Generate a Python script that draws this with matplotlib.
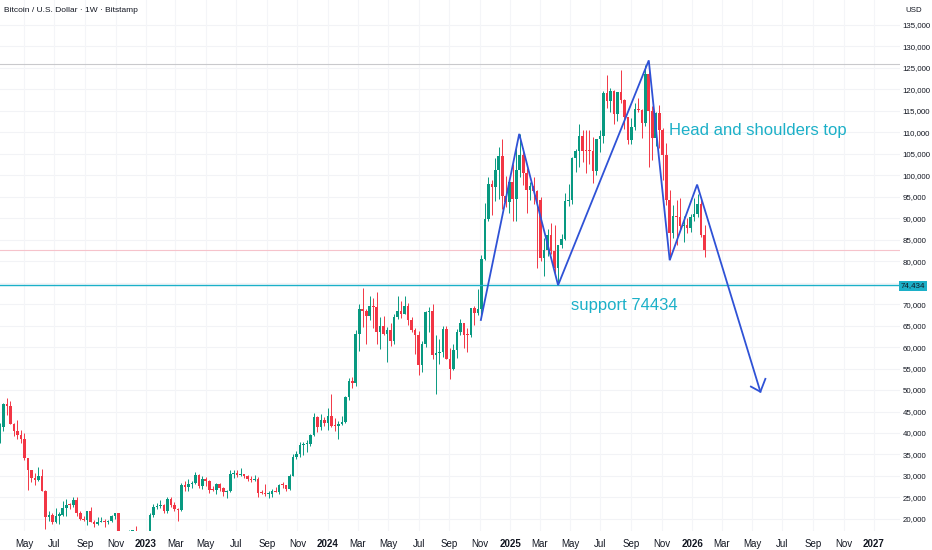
import matplotlib
matplotlib.use("Agg")
import matplotlib.pyplot as plt
import matplotlib.dates as mdates
import numpy as np
import pandas as pd

plt.rcParams['font.family'] = ['Liberation Sans', 'DejaVu Sans']

# weekly BTC/USD candles in thousands USD, first week starts Mon 2022-03-14
opens = [
    # 2022
    37.8, 41.3, 46.8, 46.4, 42.2, 40.4, 39.5, 38.5, 34.3, 31.3, 29.5, 29.0, 29.9, 26.6,
    20.5, 21.0, 19.3, 20.8, 20.9, 22.6, 23.3, 23.2, 24.3, 21.5, 20.0, 19.8, 21.8, 19.4,
    18.8, 19.3, 19.4, 19.2, 19.6, 20.6, 21.3, 16.3, 16.7, 16.5, 17.1, 17.2, 16.8, 16.9,
    # 2023
    16.6, 17.1, 20.9, 22.7, 23.0, 23.3, 21.8, 24.6, 23.2, 22.4, 22.0, 28.0, 27.5, 28.2,
    28.3, 30.3, 27.6, 29.2, 28.9, 26.8, 26.7, 28.1, 27.1, 26.3, 26.4, 30.5, 30.6, 30.2,
    30.3, 30.1, 29.3, 29.0, 29.4, 26.1, 26.0, 25.8, 25.9, 26.5, 26.3, 28.0, 27.9, 26.9,
    30.0, 34.5, 35.0, 37.1, 37.4, 37.5, 39.5, 43.8, 41.4, 43.0,
    # 2024
    42.3, 43.9, 41.7, 41.6, 42.0, 42.6, 48.3, 52.1, 51.7, 63.1, 68.9, 68.4, 67.2, 69.6,
    69.4, 63.4, 64.9, 63.1, 64.0, 61.5, 67.0, 68.5, 67.7, 69.6, 66.2, 64.0, 62.7, 55.9,
    60.8, 68.2, 68.3, 58.2, 58.7, 58.9, 64.2, 57.3, 54.9, 59.2, 63.6, 65.6, 62.9, 62.8,
    69.0, 67.9, 68.8, 80.4, 89.9, 97.9, 97.3, 101.1, 104.5, 95.2, 93.7,
    # 2025
    98.3, 94.5, 101.3, 104.8, 100.6, 96.5, 97.5, 96.3, 94.2, 80.7, 82.6, 86.1, 82.4, 78.4,
    83.7, 85.2, 94.0, 94.3, 104.0, 105.6, 109.0, 105.7, 105.6, 105.5, 101.0, 108.4, 109.2, 119.1,
    117.3, 119.5, 114.2, 119.3, 117.4, 113.5, 108.2, 111.1, 115.3, 115.2, 112.2, 123.5, 115.0, 108.6,
    114.5, 110.5, 104.7, 94.2, 86.6, 90.4, 90.3, 88.2, 88.5, 87.7,
    # 2026
    90.2, 90.9, 93.3, 86.0,
]
highs = [
    42.3, 47.0, 48.2, 47.5, 42.4, 43.0, 40.8, 40.0, 34.3, 31.3, 30.6, 32.2, 31.7, 26.8,
    21.9, 21.5, 22.5, 21.6, 24.2, 24.6, 23.6, 25.2, 25.0, 21.8, 20.6, 21.8, 22.7, 19.7,
    20.4, 20.5, 19.9, 19.7, 21.0, 21.4, 21.5, 17.2, 16.8, 17.4, 17.4, 18.4, 17.0, 16.9,
    17.3, 21.3, 23.4, 23.8, 24.3, 23.4, 25.2, 25.2, 23.9, 22.6, 28.4, 28.9, 29.2, 28.8,
    31.0, 30.5, 30.0, 29.8, 29.0, 27.6, 28.3, 28.4, 27.4, 26.8, 31.4, 31.3, 31.5, 31.8,
    30.4, 30.2, 29.9, 30.2, 29.7, 26.8, 28.1, 26.4, 27.0, 27.5, 28.1, 28.6, 28.0, 30.4,
    35.2, 35.9, 37.9, 37.9, 38.4, 39.8, 44.7, 44.0, 44.4, 43.7,
    45.9, 49.0, 43.6, 42.8, 43.9, 48.6, 52.8, 53.0, 64.0, 70.0, 73.8, 68.9, 71.8, 71.3,
    72.8, 66.9, 67.2, 64.7, 65.5, 67.7, 71.9, 70.6, 71.9, 70.2, 66.9, 64.5, 63.8, 61.4,
    68.4, 69.4, 70.0, 62.7, 61.8, 65.0, 64.9, 59.8, 60.6, 64.1, 66.5, 65.7, 64.5, 69.1,
    69.5, 73.6, 81.5, 93.5, 99.6, 98.8, 104.0, 106.5, 108.4, 99.9, 99.0,
    102.7, 106.4, 109.6, 106.4, 101.6, 98.5, 99.5, 96.5, 95.0, 85.3, 87.5, 88.8, 88.5, 83.8,
    86.4, 95.8, 97.9, 104.3, 106.0, 111.9, 110.4, 110.5, 110.6, 108.9, 108.5, 110.6, 119.5, 123.2,
    120.3, 119.8, 119.4, 124.5, 117.6, 113.6, 113.4, 116.8, 117.9, 115.4, 125.6, 126.2, 116.0, 114.6,
    116.4, 110.9, 107.5, 96.6, 93.1, 94.1, 94.6, 90.5, 90.0, 91.0,
    94.7, 95.6, 94.5, 88.4,
]
lows = [
    37.6, 40.5, 44.2, 42.1, 39.2, 38.5, 37.7, 33.7, 26.7, 28.6, 28.0, 28.8, 26.5, 17.6,
    19.6, 18.8, 19.0, 18.9, 20.8, 20.7, 22.4, 22.7, 20.8, 19.8, 19.5, 18.5, 19.3, 18.1,
    18.5, 19.2, 18.2, 18.9, 19.2, 20.0, 15.6, 16.2, 15.5, 16.0, 16.9, 16.6, 16.4, 16.3,
    16.5, 17.0, 20.4, 22.3, 22.5, 21.4, 21.5, 22.9, 21.9, 19.6, 21.9, 26.6, 26.6, 27.3,
    28.2, 27.1, 26.9, 27.7, 26.0, 26.4, 25.9, 26.6, 25.4, 24.8, 26.3, 29.5, 29.7, 29.9,
    29.6, 28.9, 28.6, 28.8, 25.2, 25.8, 25.3, 24.9, 25.0, 26.2, 25.9, 27.2, 26.5, 26.8,
    29.9, 34.0, 34.5, 34.8, 35.6, 36.9, 39.4, 40.2, 40.6, 41.6,
    40.8, 41.5, 40.5, 38.5, 41.8, 42.3, 47.7, 50.5, 50.9, 59.0, 64.6, 60.8, 66.4, 64.5,
    60.7, 59.6, 62.8, 56.5, 60.2, 60.6, 66.6, 66.7, 67.6, 65.1, 63.4, 58.4, 53.5, 54.3,
    59.9, 63.4, 57.2, 49.1, 56.1, 57.8, 57.2, 52.6, 54.6, 57.5, 62.7, 59.8, 58.9, 62.4,
    65.1, 67.5, 66.8, 80.2, 89.4, 90.8, 94.0, 94.4, 92.2, 92.6, 91.3,
    89.3, 89.3, 99.5, 97.8, 91.2, 94.1, 93.4, 78.3, 80.0, 76.6, 81.2, 81.6, 77.1, 74.4,
    83.0, 85.0, 92.8, 93.4, 100.8, 102.0, 103.1, 100.4, 102.7, 98.2, 100.0, 105.3, 107.5, 115.7,
    114.7, 111.9, 112.7, 116.8, 110.7, 107.3, 107.2, 110.6, 114.7, 108.6, 111.5, 102.0, 103.5, 106.7,
    106.3, 98.9, 93.0, 80.6, 85.3, 83.8, 87.5, 84.5, 86.5, 86.8,
    89.3, 90.2, 85.6, 80.9,
]
closes = [
    41.3, 46.8, 46.4, 42.2, 40.4, 39.5, 38.5, 34.3, 31.3, 29.5, 29.0, 29.9, 26.6, 20.5,
    21.0, 19.3, 20.8, 20.9, 22.6, 23.3, 23.2, 24.3, 21.5, 20.0, 19.8, 21.8, 19.4, 18.8,
    19.3, 19.4, 19.2, 19.6, 20.6, 21.3, 16.3, 16.7, 16.5, 17.1, 17.2, 16.8, 16.9, 16.6,
    17.1, 20.9, 22.7, 23.0, 23.3, 21.8, 24.6, 23.2, 22.4, 22.0, 28.0, 27.5, 28.2, 28.3,
    30.3, 27.6, 29.2, 28.9, 26.8, 26.7, 28.1, 27.1, 26.3, 26.4, 30.5, 30.6, 30.2, 30.3,
    30.1, 29.3, 29.0, 29.4, 26.1, 26.0, 25.8, 25.9, 26.5, 26.3, 28.0, 27.9, 26.9, 30.0,
    34.5, 35.0, 37.1, 37.4, 37.5, 39.5, 43.8, 41.4, 43.0, 42.3,
    43.9, 41.7, 41.6, 42.0, 42.6, 48.3, 52.1, 51.7, 63.1, 68.9, 68.4, 67.2, 69.6, 69.4,
    63.4, 64.9, 63.1, 64.0, 61.5, 67.0, 68.5, 67.7, 69.6, 66.2, 64.0, 62.7, 55.9, 60.8,
    68.2, 68.3, 58.2, 58.7, 58.9, 64.2, 57.3, 54.9, 59.2, 63.6, 65.6, 62.9, 62.8, 69.0,
    67.9, 68.8, 80.4, 89.9, 97.9, 97.3, 101.1, 104.5, 95.2, 93.7, 98.3,
    94.5, 101.3, 104.8, 100.6, 96.5, 97.5, 96.3, 94.2, 80.7, 82.6, 86.1, 82.4, 78.4, 83.7,
    85.2, 94.0, 94.3, 104.0, 105.6, 109.0, 105.7, 105.6, 105.5, 101.0, 108.4, 109.2, 119.1, 117.3,
    119.5, 114.2, 119.3, 117.4, 113.5, 108.2, 111.1, 115.3, 115.2, 112.2, 123.5, 115.0, 108.6, 114.5,
    110.5, 104.7, 94.2, 86.6, 90.4, 90.3, 88.2, 88.5, 87.7, 90.2,
    90.9, 93.3, 86.0, 82.6,
]

# drawn pattern (head and shoulders) and projected move
pattern_dates = ['2024-11-03', '2025-01-19', '2025-04-07', '2025-10-06',
                 '2025-11-17', '2026-01-11', '2026-05-18']
pattern_prices = [66300, 109600, 74400, 126700, 80200, 97800, 49600]
arrow_wing_dates = ['2026-04-29', '2026-05-18', '2026-05-28']
arrow_wing_prices = [50800, 49600, 52600]

support_level = 74434
top_level = 125800
y_ticks = list(range(20000, 135001, 5000))

green = '#089981'
red = '#f23645'
cyan = '#1cb0c8'
blue = '#2f52d6'

weeks = pd.date_range('2022-03-14', periods=len(opens), freq='W-MON')
x = mdates.date2num(weeks)
o = np.array(opens) * 1000
h = np.array(highs) * 1000
l = np.array(lows) * 1000
c = np.array(closes) * 1000
cols = np.where(c >= o, green, red)

fig = plt.figure(figsize=(9.32, 5.5), dpi=100)
ax = fig.add_axes([0, 19 / 550, 900 / 932, 531 / 550])

x0 = mdates.date2num(pd.Timestamp('2023-01-01'))
ppd = 182 / 365.25
ax.set_xlim(x0 - 146 / ppd, x0 + (900 - 146) / ppd)
ax.set_ylim(17200, 140750)

# grid
for yt in y_ticks:
    ax.axhline(yt, color='#f2f3f6', lw=0.8, zorder=0)
tick_dates = pd.date_range('2022-05-01', '2027-01-01', freq='2MS')
for td in tick_dates:
    ax.axvline(mdates.date2num(td), color='#f4f5f8', lw=0.8, zorder=0)

# reference lines
ax.axhline(top_level, color='#c9c9cc', lw=0.8, zorder=1)
ax.axhline(c[-1], color='#f6c3cb', lw=0.8, zorder=1)
ax.axhline(support_level, color=cyan, lw=1.0, zorder=4)

# candles
ax.vlines(x, l, h, colors=cols, lw=0.7, zorder=2)
body = np.maximum(np.abs(c - o), 250)
ax.bar(x, body, bottom=np.minimum(o, c), width=5.2, color=cols, lw=0, zorder=3)

# pattern lines
px = mdates.date2num(pd.to_datetime(pattern_dates))
ax.plot(px, pattern_prices, color=blue, lw=1.3, zorder=5, solid_joinstyle='miter')
wx = mdates.date2num(pd.to_datetime(arrow_wing_dates))
ax.plot(wx, arrow_wing_prices, color=blue, lw=1.3, zorder=5)

ax.text(mdates.date2num(pd.Timestamp('2025-11-15')), 110300, 'Head and shoulders top',
        color=cyan, fontsize=12, va='center', ha='left', zorder=6)
ax.text(mdates.date2num(pd.Timestamp('2025-05-02')), 69600, 'support 74434',
        color=cyan, fontsize=12, va='center', ha='left', zorder=6)

# axes styling
for s in ax.spines.values():
    s.set_visible(False)
ax.yaxis.tick_right()
ax.set_yticks(y_ticks)
ax.set_yticklabels(['' if v == 75000 else f'{v:,}' for v in y_ticks])
ax.tick_params(axis='y', length=0, pad=2, labelsize=5.7, labelcolor='#131722')

ax.set_xticks(mdates.date2num(tick_dates))
xlabels = [str(d.year) if d.month == 1 else d.strftime('%b') for d in tick_dates]
ax.set_xticklabels(xlabels)
ax.tick_params(axis='x', length=0, pad=6, labelsize=7, labelcolor='#131722')
for lab in ax.get_xticklabels():
    if lab.get_text().isdigit():
        lab.set_fontweight('bold')

fig.text(4 / 932, 1 - 11 / 550, 'Bitcoin / U.S. Dollar \u00b7 1W \u00b7 Bitstamp',
         fontsize=6, color='#131722', va='center', ha='left')
fig.text(905 / 932, 1 - 11 / 550, 'USD', fontsize=5.7, color='#131722', va='center', ha='left')
fig.text(901 / 932, 1 - 285.7 / 550, '74,434', fontsize=5.7, color='#131722',
         va='center', ha='left',
         bbox=dict(boxstyle='square,pad=0.2', fc=cyan, ec='none'))

fig.savefig('out.png', dpi=100)
